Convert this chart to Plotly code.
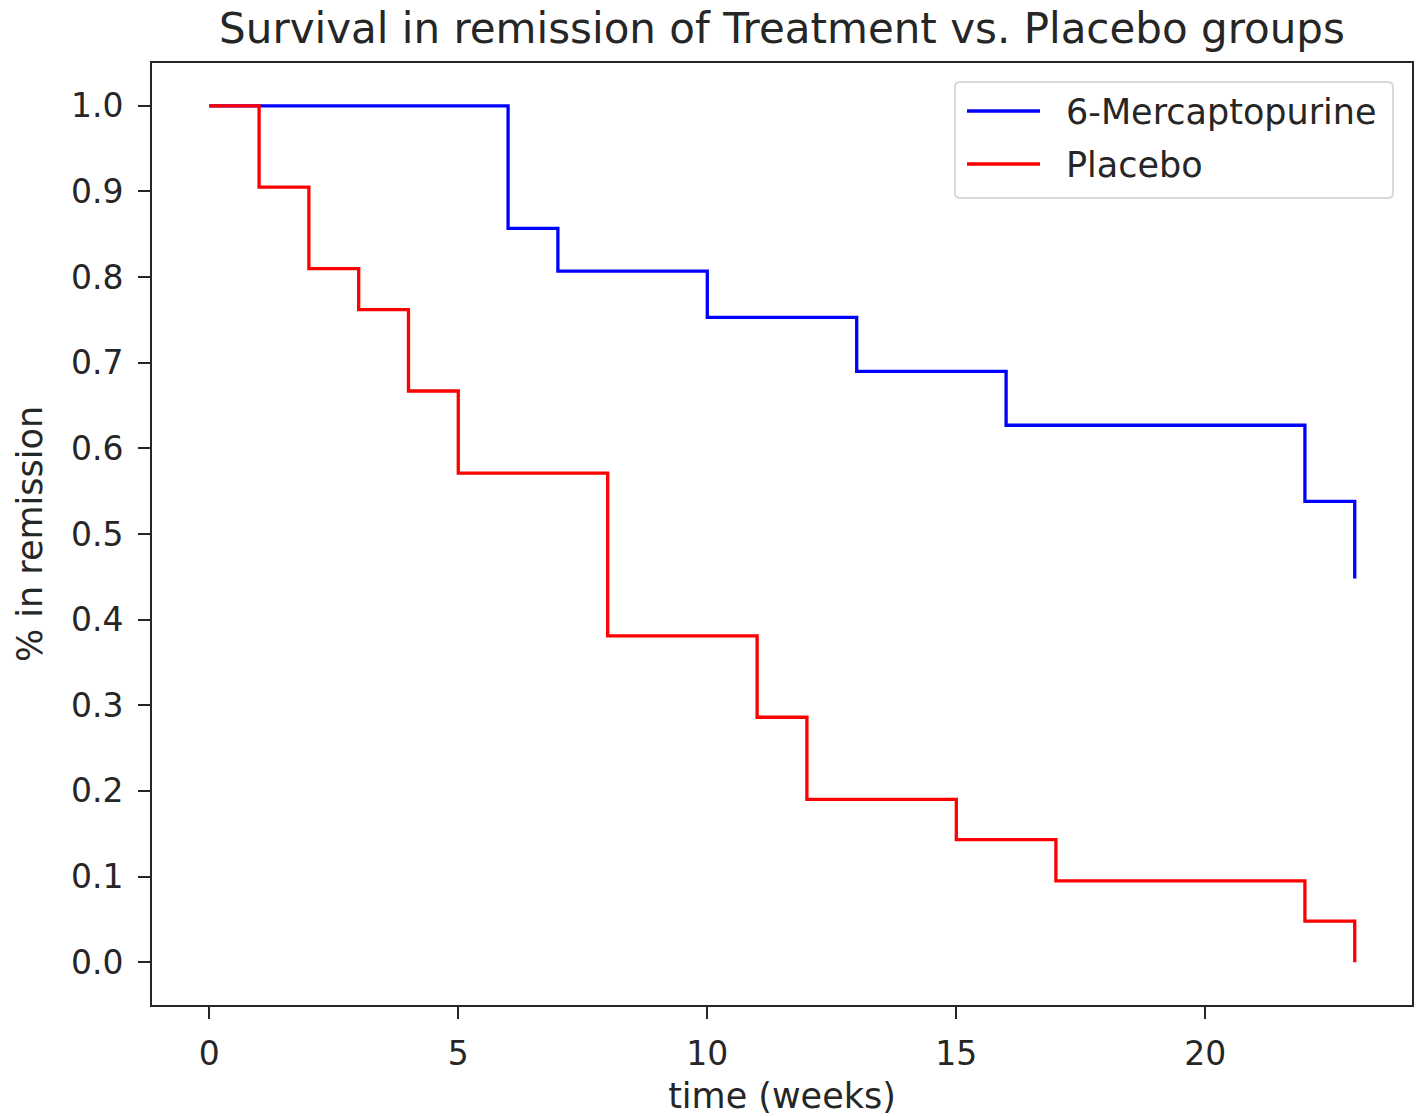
import plotly.graph_objects as go

# Kaplan-Meier survival estimates (Gehan leukemia data)
mp_times = [0, 6, 7, 10, 13, 16, 22, 23]
mp_surv = [1.0, 0.857, 0.807, 0.753, 0.690, 0.627, 0.538, 0.448]
pl_times = [0, 1, 2, 3, 4, 5, 8, 11, 12, 15, 17, 22, 23]
pl_surv = [1.0, 0.905, 0.810, 0.762, 0.667, 0.571, 0.381, 0.286, 0.190, 0.143, 0.095, 0.048, 0.0]
series_names = ["6-Mercaptopurine", "Placebo"]
series_colors = ["#0000ff", "#ff0000"]
x_ticks = [0, 5, 10, 15, 20]
y_ticks = [0.0, 0.1, 0.2, 0.3, 0.4, 0.5, 0.6, 0.7, 0.8, 0.9, 1.0]

W, H = 1423, 1116
L, R, T, B = 152, 1412, 63, 1005
FONT = "DejaVu Sans"
TXT = "#262626"
TICK_FS, LAB_FS, TITLE_FS = 33, 35, 42

fig = go.Figure()
for name, col, xs, ys in [(series_names[0], series_colors[0], mp_times, mp_surv),
                          (series_names[1], series_colors[1], pl_times, pl_surv)]:
    fig.add_trace(go.Scatter(x=xs, y=ys, mode="lines", name=name,
                             line=dict(color=col, width=3.3, shape="hv"),
                             showlegend=False))

def px(xp):
    return (xp - L) / (R - L)

def py(yp):
    return (B - yp) / (B - T)

# manual legend box with rounded corners
bx0, bx1, by0, by1 = 955, 1393, 82, 198
r = 5
def P(x, y):
    return f"{px(x):.5f},{py(y):.5f}"
path = (f"M {P(bx0 + r, by0)} L {P(bx1 - r, by0)} Q {P(bx1, by0)} {P(bx1, by0 + r)} "
        f"L {P(bx1, by1 - r)} Q {P(bx1, by1)} {P(bx1 - r, by1)} "
        f"L {P(bx0 + r, by1)} Q {P(bx0, by1)} {P(bx0, by1 - r)} "
        f"L {P(bx0, by0 + r)} Q {P(bx0, by0)} {P(bx0 + r, by0)} Z")
shapes = [dict(type="path", xref="paper", yref="paper", path=path,
               line=dict(color="#d9d9d9", width=2), fillcolor="rgba(255,255,255,0.8)", layer="above")]
annotations = []
for i, (name, col) in enumerate(zip(series_names, series_colors)):
    yy = 111 + i * 53
    shapes.append(dict(type="line", xref="paper", yref="paper",
                       x0=px(967), x1=px(1040), y0=py(yy), y1=py(yy),
                       line=dict(color=col, width=3.3), layer="above"))
    annotations.append(dict(xref="paper", yref="paper", x=px(1064), y=py(yy + 1),
                            text=name, showarrow=False, xanchor="left", yanchor="middle",
                            font=dict(family=FONT, size=LAB_FS, color=TXT)))

axis_common = dict(showline=True, linecolor="#262626", linewidth=2, mirror=True,
                   ticks="outside", ticklen=12, tickwidth=2, tickcolor="#262626",
                   showgrid=False, zeroline=False, automargin=False,
                   tickfont=dict(family=FONT, size=TICK_FS, color=TXT))

fig.update_layout(
    width=W, height=H,
    margin=dict(l=L, r=W - R, t=T, b=H - B, autoexpand=False),
    paper_bgcolor="white", plot_bgcolor="white",
    title=dict(text="Survival in remission of Treatment vs. Placebo groups",
               x=(L + R) / 2 / W, xanchor="center", y=1 - 28 / H, yanchor="middle",
               font=dict(family=FONT, size=TITLE_FS, color=TXT)),
    xaxis=dict(range=[-1.15, 24.15], tickvals=x_ticks, ticktext=[str(v) for v in x_ticks],
               title=dict(text="time (weeks)", font=dict(family=FONT, size=LAB_FS, color=TXT), standoff=12),
               ticklabelstandoff=6, **axis_common),
    yaxis=dict(range=[-0.05, 1.05], tickvals=y_ticks, ticktext=[f"{v:.1f}" for v in y_ticks],
               title=dict(text="% in remission", font=dict(family=FONT, size=LAB_FS, color=TXT), standoff=18),
               ticklabelstandoff=8, **axis_common),
    shapes=shapes, annotations=annotations,
)

fig.write_html("out.html")
